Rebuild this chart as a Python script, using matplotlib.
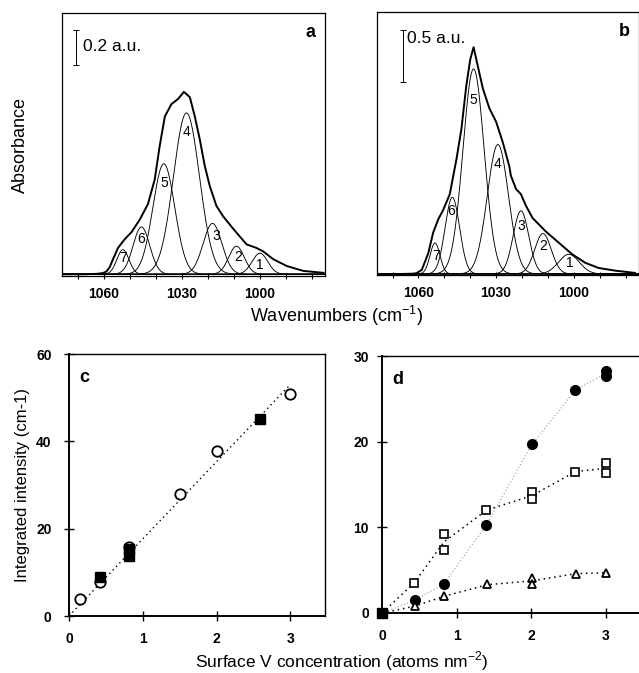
import numpy as np
import matplotlib
matplotlib.use("Agg")
import matplotlib.pyplot as plt

plt.rcParams['font.family'] = ['Liberation Sans', 'DejaVu Sans']
plt.rcParams['mathtext.fontset'] = 'custom'
plt.rcParams['mathtext.rm'] = 'Liberation Sans'

# ---------------- Panel a data ----------------
a_env_wn = [1076, 1068, 1063, 1060.4, 1059, 1057.7, 1056.4, 1054.5, 1051.9, 1049.3, 1046.2,
            1043.0, 1040.4, 1038.5, 1036.5, 1034.0, 1031.4, 1029.2, 1026.9, 1025.0,
            1023.1, 1021.2, 1019.2, 1016.7, 1014.1, 1010.3, 1005.1, 1001.3, 998.7,
            994.9, 989.7, 983.3, 975.6]
a_env_abs = [0.0, 0.0, 0.002, 0.006, 0.015, 0.04, 0.086, 0.15, 0.20, 0.24, 0.31,
             0.40, 0.54, 0.73, 0.90, 0.97, 1.00, 1.04, 1.01, 0.90,
             0.77, 0.62, 0.50, 0.39, 0.33, 0.26, 0.17, 0.15, 0.13,
             0.086, 0.047, 0.019, 0.008]
a_band_center = [1000.0, 1009.0, 1018.2, 1028.2, 1036.9, 1045.5, 1052.6]
a_band_height = [0.12, 0.16, 0.29, 0.92, 0.63, 0.27, 0.14]
a_band_sigma = [3.0, 3.0, 3.6, 5.0, 4.2, 3.2, 2.3]
a_band_labels = ['1', '2', '3', '4', '5', '6', '7']
a_label_wn = [1000.0, 1008.4, 1016.9, 1028.0, 1036.8, 1045.6, 1052.5]
a_label_abs = [0.05, 0.10, 0.22, 0.81, 0.52, 0.20, 0.09]

# ---------------- Panel b data ----------------
b_env_wn = [1076, 1066, 1062, 1060.7, 1058.7, 1056.2, 1054.3, 1052.3, 1050.4, 1047.9, 1045.3,
            1043.4, 1041.5, 1040.0, 1038.7, 1037.0, 1035.1, 1032.6, 1030.0, 1027.4,
            1024.9, 1024.3, 1022.3, 1020.4, 1018.5, 1015.9, 1010.8, 1005.7, 1000.6,
            995.5, 990.4, 984.0, 976.4]
b_env_abs = [0.0, 0.0, 0.003, 0.008, 0.04, 0.20, 0.40, 0.53, 0.62, 0.77, 1.11,
             1.40, 1.82, 2.07, 2.19, 2.00, 1.79, 1.60, 1.47, 1.27,
             1.04, 0.95, 0.82, 0.77, 0.66, 0.54, 0.41, 0.30, 0.19,
             0.107, 0.058, 0.032, 0.01]
b_band_center = [1001.9, 1011.9, 1020.4, 1029.3, 1038.7, 1046.9, 1053.6]
b_band_height = [0.19, 0.39, 0.61, 1.25, 1.98, 0.74, 0.30]
b_band_sigma = [4.0, 3.2, 3.0, 4.1, 4.1, 2.8, 1.9]
b_band_labels = ['1', '2', '3', '4', '5', '6', '7']
b_label_wn = [1001.5, 1011.7, 1020.4, 1029.6, 1038.9, 1047.2, 1053.0]
b_label_abs = [0.107, 0.27, 0.46, 1.06, 1.68, 0.61, 0.17]

# ---------------- Panel c data ----------------
c_open_x = [0.145, 0.42, 0.81, 1.50, 2.0, 2.99]
c_open_y = [3.8, 7.9, 15.9, 28.0, 37.8, 50.8]
c_fill_x = [0.42, 0.81, 0.81, 2.59]
c_fill_y = [9.0, 13.8, 15.4, 45.1]
c_fit_x = [0.0, 3.0]
c_fit_y = [0.0, 53.0]

# ---------------- Panel d data ----------------
d_circ_x = [0.44, 0.83, 1.40, 2.01, 2.59, 3.0, 3.0]
d_circ_y = [1.48, 3.42, 10.3, 19.7, 26.0, 27.7, 28.3]
d_circ_line_x = [0.0, 0.44, 0.83, 1.40, 2.01, 2.59, 3.0]
d_circ_line_y = [0.0, 1.48, 3.42, 10.3, 19.7, 26.0, 28.0]
d_sq_x = [0.43, 0.83, 0.83, 1.40, 2.01, 2.01, 2.59, 3.0, 3.0]
d_sq_y = [3.5, 9.26, 7.4, 12.0, 14.1, 13.3, 16.5, 17.5, 16.3]
d_sq_line_x = [0.0, 0.43, 0.83, 1.40, 2.01, 2.59, 3.0]
d_sq_line_y = [0.0, 3.5, 8.3, 12.0, 13.7, 16.5, 16.9]
d_tri_x = [0.44, 0.83, 1.41, 2.01, 2.01, 2.6, 3.0]
d_tri_y = [0.8, 1.95, 3.4, 4.1, 3.4, 4.6, 4.7]
d_tri_line_x = [0.0, 0.44, 0.83, 1.41, 2.01, 2.6, 3.0]
d_tri_line_y = [0.0, 0.8, 1.95, 3.3, 3.75, 4.6, 4.7]
d_origin_x = [0.0]
d_origin_y = [0.0]

W, H = 639, 673
fig = plt.figure(figsize=(W / 100, H / 100), dpi=100)


def px_axes(l, t, r, b):
    return fig.add_axes([l / W, 1 - b / H, (r - l) / W, (b - t) / H])


def spectrum_panel(ax, env_wn, env_abs, centers, heights, sigmas, labels, lwn, labs,
                   ylim, letter, bar_x, bar_y0, bar_y1, bar_text, text_x, text_y):
    wn = np.linspace(1076, 975, 1200)
    for c, h, s in zip(centers, heights, sigmas):
        ax.plot(wn, h * np.exp(-0.5 * ((wn - c) / s) ** 2), color='black', lw=0.65)
    ax.plot(env_wn, env_abs, color='black', lw=1.4)
    for lab, x, y in zip(labels, lwn, labs):
        ax.text(x, y, lab, fontsize=10, ha='center', va='center')
    ax.set_xlim(1076, 975)
    ax.set_ylim(*ylim)
    ax.set_xticks([1060, 1030, 1000])
    ax.set_xticklabels(['1060', '1030', '1000'], fontweight='bold', fontsize=10)
    ax.set_xticks(np.arange(1070, 975, -10), minor=True)
    ax.tick_params(axis='x', which='both', direction='inout', length=5, width=0.8, pad=5.5)
    ax.set_yticks([])
    for sp in ax.spines.values():
        sp.set_linewidth(0.9)
    ax.plot([bar_x, bar_x], [bar_y0, bar_y1], color='black', lw=0.7)
    ax.plot([bar_x, bar_x], [bar_y0, bar_y1], ls='none', marker='_', ms=5, mew=0.7, color='black')
    ax.text(text_x, text_y, bar_text, fontsize=12.5, ha='left', va='center')
    ax.text(0.945, 0.925, letter, transform=ax.transAxes, fontsize=13, fontweight='bold',
            ha='center', va='center')


ax_a = px_axes(62, 13, 325, 276)
spectrum_panel(ax_a, a_env_wn, a_env_abs, a_band_center, a_band_height, a_band_sigma,
               a_band_labels, a_label_wn, a_label_abs, (-0.01, 1.49), 'a',
               1070.5, 1.194, 1.394, '0.2 a.u.', 1068.0, 1.30)

ax_b = px_axes(377, 12, 638.5, 275)
spectrum_panel(ax_b, b_env_wn, b_env_abs, b_band_center, b_band_height, b_band_sigma,
               b_band_labels, b_label_wn, b_label_abs, (-0.01, 2.53), 'b',
               1066.0, 1.854, 2.355, '0.5 a.u.', 1064.3, 2.27)

fig.text(336 / W, 1 - 316 / H, 'Wavenumbers (cm$^{-1}$)', fontsize=13, ha='center', va='center')
fig.text(20 / W, 1 - 145 / H, 'Absorbance', fontsize=13, rotation=90, ha='center', va='center')


def style_scatter_axes(ax, yticks, ylim, letter, ypad):
    ax.set_xlim(0, 3.47)
    ax.set_ylim(*ylim)
    ax.set_xticks([0, 1, 2, 3])
    ax.set_yticks(yticks)
    ax.set_xticklabels(['0', '1', '2', '3'], fontweight='bold', fontsize=10)
    ax.set_yticklabels([str(v) for v in yticks], fontweight='bold', fontsize=10)
    ax.tick_params(axis='x', direction='inout', length=7, width=1.0, pad=8)
    ax.tick_params(axis='y', direction='inout', length=7, width=1.0, pad=ypad)
    ax.spines['left'].set_linewidth(1.4)
    ax.spines['bottom'].set_linewidth(1.4)
    ax.spines['top'].set_linewidth(1.0)
    ax.spines['right'].set_linewidth(1.0)
    ax.text(0.06, 0.91, letter, transform=ax.transAxes, fontsize=13, fontweight='bold',
            ha='center', va='center')


ax_c = px_axes(69, 354, 325, 616)
ax_c.plot(c_fit_x, c_fit_y, color='black', lw=1.0, ls=(0, (1, 2.5)))
ax_c.plot(c_open_x, c_open_y, ls='none', marker='o', ms=7.5, mfc='white', mec='black', mew=1.3)
ax_c.plot(c_fill_x, c_fill_y, ls='none', marker='s', ms=6.5, mfc='black', mec='black')
style_scatter_axes(ax_c, [0, 20, 40, 60], (0, 60), 'c', 9)
ax_c.set_ylabel('Integrated intensity (cm-1)', fontsize=12)
ax_c.yaxis.set_label_coords(-0.152, 0.5)

ax_d = px_axes(382, 356, 641, 613)
ax_d.plot(d_circ_line_x, d_circ_line_y, color='#999999', lw=0.8, ls=(0, (1, 2)))
ax_d.plot(d_sq_line_x, d_sq_line_y, color='black', lw=1.1, ls=(0, (1, 2.5)))
ax_d.plot(d_tri_line_x, d_tri_line_y, color='black', lw=1.1, ls=(0, (1, 2.5)))
ax_d.plot(d_circ_x, d_circ_y, ls='none', marker='o', ms=7, mfc='black', mec='black')
ax_d.plot(d_sq_x, d_sq_y, ls='none', marker='s', ms=6, mfc='white', mec='black', mew=1.2)
ax_d.plot(d_tri_x, d_tri_y, ls='none', marker='^', ms=6, mfc='white', mec='black', mew=1.3)
ax_d.plot(d_origin_x, d_origin_y, ls='none', marker='s', ms=6.5, mfc='black', mec='black',
          clip_on=False, zorder=5)
style_scatter_axes(ax_d, [0, 10, 20, 30], (0, 30), 'd', 6)

fig.text(342 / W, 1 - 661 / H, 'Surface V concentration (atoms nm$^{-2}$)', fontsize=12.5,
         ha='center', va='center')

fig.savefig('out.png', dpi=100)
